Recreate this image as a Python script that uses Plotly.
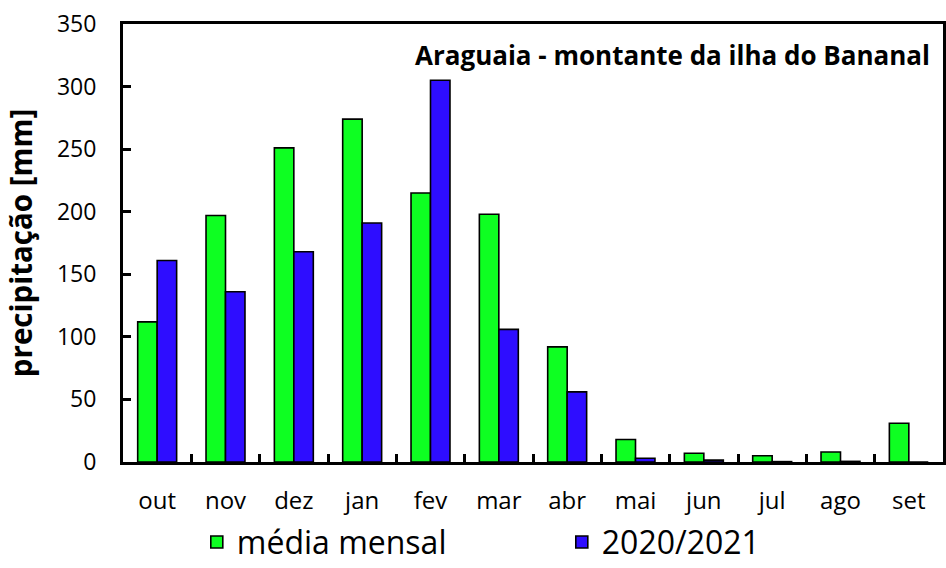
import plotly.graph_objects as go

meses = ["out", "nov", "dez", "jan", "fev", "mar", "abr", "mai", "jun", "jul", "ago", "set"]
media_mensal = [112, 197, 251, 274, 215, 198, 92, 18, 7, 5, 8, 31]
ano_2020_2021 = [161, 136, 168, 191, 305, 106, 56, 3, 1.5, 0.3, 0.5, 0]
y_ticks = [0, 50, 100, 150, 200, 250, 300, 350]

FONT = "Open Sans"

fig = go.Figure()
fig.add_trace(go.Bar(
    x=meses, y=media_mensal, name="média mensal",
    marker=dict(color="#0EFF22", line=dict(color="black", width=1.6)),
))
fig.add_trace(go.Bar(
    x=meses, y=ano_2020_2021, name="2020/2021",
    marker=dict(color="#2E0DFF", line=dict(color="black", width=1.6)),
))

fig.update_layout(
    width=946, height=568,
    margin=dict(l=123, r=3, t=24, b=106, autoexpand=False),
    paper_bgcolor="white", plot_bgcolor="white",
    barmode="group", bargap=0.43, bargroupgap=0,
    font=dict(family=FONT, color="black", size=23),
    showlegend=True,
    legend=dict(
        orientation="h", x=0.09, xanchor="left", y=-0.183, yanchor="middle",
        font=dict(family=FONT, size=32), entrywidth=320, entrywidthmode="pixels",
        traceorder="normal", itemwidth=30,
    ),
    annotations=[dict(
        text="<b>Araguaia - montante da ilha do Bananal</b>",
        xref="paper", yref="paper", x=0.987, y=0.975, xanchor="right", yanchor="top",
        showarrow=False, font=dict(family=FONT, size=26, color="black"),
    )],
)

fig.update_xaxes(
    type="category", tickson="boundaries", ticks="inside", ticklen=8, tickwidth=3,
    tickcolor="black", showline=True, linecolor="black", linewidth=3, mirror=True,
    showgrid=False, tickfont=dict(family=FONT, size=24), ticklabelstandoff=15,
)
fig.update_yaxes(
    range=[0, 350], tickvals=y_ticks, ticks="inside", ticklen=8, tickwidth=3,
    tickcolor="black", showline=True, linecolor="black", linewidth=3, mirror=True,
    showgrid=False, zeroline=False, tickfont=dict(family=FONT, size=23),
    ticklabelstandoff=19,
    title=dict(text="<b>precipitação [mm]</b>", font=dict(family=FONT, size=29.5), standoff=16),
)

fig.write_html("out.html")
